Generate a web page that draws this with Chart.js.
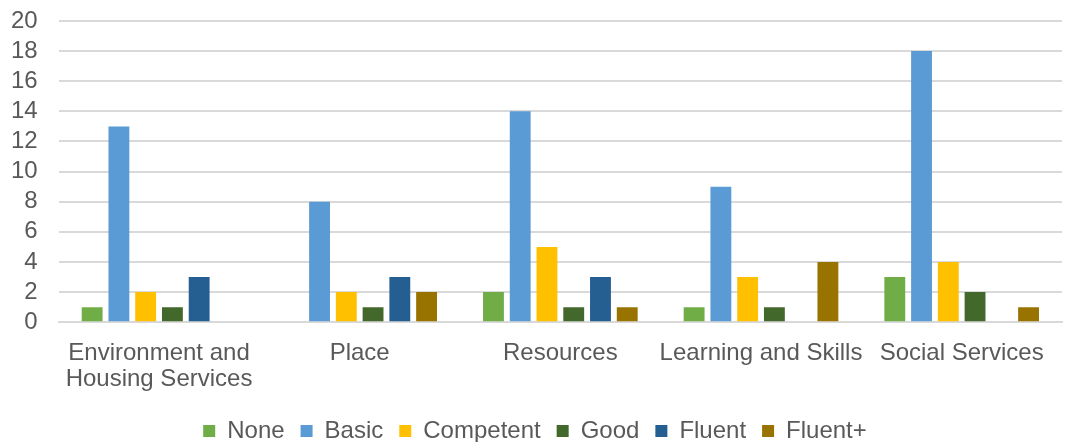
<!DOCTYPE html>
<html>
<head>
<meta charset="utf-8">
<script src="https://cdn.jsdelivr.net/npm/chart.js@4/dist/chart.umd.min.js"></script>
<style>
  html, body { margin: 0; padding: 0; background: #fff; }
  #wrap { width: 1065px; height: 442px; }
</style>
</head>
<body>
<div id="wrap"><canvas id="chart"></canvas></div>
<script>
const categories = [
  ["Environment and", "Housing Services"],
  "Place",
  "Resources",
  "Learning and Skills",
  "Social Services"
];
const seriesNames = ["None", "Basic", "Competent", "Good", "Fluent", "Fluent+"];
const none = [1, 0, 2, 1, 3];
const basic = [13, 8, 14, 9, 18];
const competent = [2, 2, 5, 3, 4];
const good = [1, 1, 1, 1, 2];
const fluent = [3, 3, 3, 0, 0];
const fluentPlus = [0, 2, 1, 4, 1];
const yTicks = [0, 2, 4, 6, 8, 10, 12, 14, 16, 18, 20];

const colors = ["#70AD47", "#5B9BD5", "#FFC000", "#43682B", "#255E91", "#997300"];
const values = [none, basic, competent, good, fluent, fluentPlus];

const datasets = seriesNames.map((name, i) => ({
  label: name,
  data: values[i],
  backgroundColor: colors[i],
  borderWidth: 0,
  categoryPercentage: 0.8,
  barPercentage: 0.78
}));

Chart.defaults.font.family = "'Liberation Sans', Arial, sans-serif";
Chart.defaults.color = "#595959";

// keep the legend box short so its text sits lower, near the bottom edge
const legendHeight = {
  id: "legendHeight",
  afterInit(chart) {
    const fit = chart.legend.fit;
    chart.legend.fit = function () {
      fit.bind(chart.legend)();
      this.height = 39;
    };
  }
};

new Chart(document.getElementById("chart"), {
  type: "bar",
  data: { labels: categories, datasets: datasets },
  plugins: [legendHeight],
  options: {
    responsive: true,
    maintainAspectRatio: false,
    animation: false,
    layout: { padding: { left: 8, right: 3, top: 21, bottom: 0 } },
    plugins: {
      tooltip: { enabled: false },
      legend: {
        position: "bottom",
        labels: {
          font: { size: 24 },
          boxWidth: 12,
          boxHeight: 12,
          padding: 16,
          color: "#595959"
        }
      }
    },
    scales: {
      x: {
        grid: { display: false },
        border: { display: true, color: "#D9D9D9", width: 2 },
        ticks: { font: { size: 24, lineHeight: 1.1 }, color: "#595959", maxRotation: 0, autoSkip: false, padding: 10 }
      },
      y: {
        min: 0,
        max: 20,
        afterBuildTicks: (axis) => { axis.ticks = yTicks.map(v => ({ value: v })); },
        grid: { color: "#D9D9D9", lineWidth: 2, drawTicks: true, tickLength: 18, tickColor: "rgba(0,0,0,0)" },
        border: { display: false },
        ticks: { font: { size: 24, lineHeight: 1 }, color: "#595959", padding: 3, autoSkip: false }
      }
    }
  }
});
</script>
</body>
</html>
